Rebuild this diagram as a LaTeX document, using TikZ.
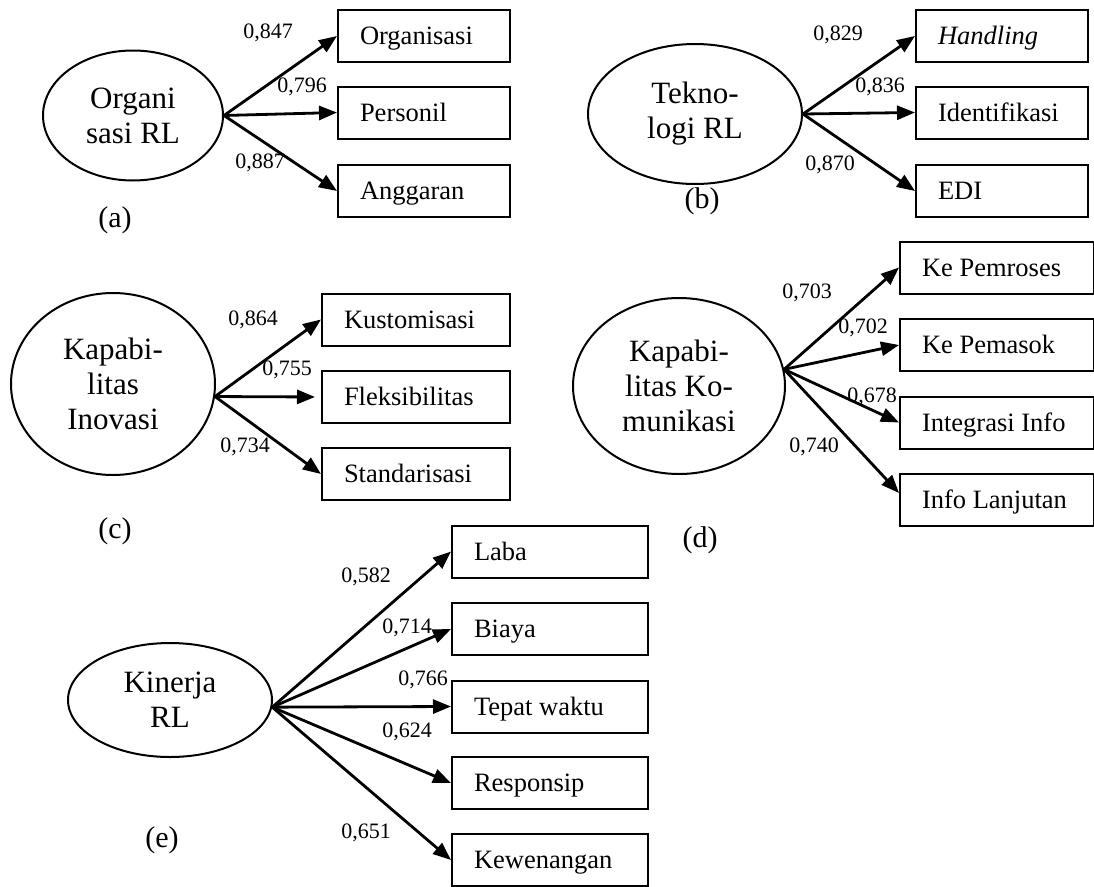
\documentclass[tikz,border=0pt]{standalone}
\usepackage{fontspec}
\setmainfont{Liberation Serif}
\usetikzlibrary{shapes.geometric,arrows.meta}

\begin{document}
\begin{tikzpicture}[x=1pt, y=-1pt,
    lat/.style={draw, ellipse, line width=2pt, inner sep=0pt, align=flush center, font=\fontsize{31}{35}\selectfont},
    ind/.style={draw, rectangle, line width=2pt, anchor=west, minimum height=52pt, inner xsep=22pt, inner ysep=0pt, align=flush left, text width=#1, text height=17.5pt, text depth=0pt, font=\fontsize{26.5}{30}\selectfont},
    coef/.style={inner sep=0pt, font=\fontsize{22}{24}\selectfont},
    pan/.style={inner sep=0pt, font=\fontsize{30}{34}\selectfont},
    fl/.style={-{Triangle[length=18pt, width=14pt]}, line width=2.8pt}]
    \useasboundingbox (0,0) rectangle (1094,886);
    % variables latentes
    \node[lat, minimum width=180pt, minimum height=130pt] (LA) at (133,115.5) {Organi\\sasi RL};
    \node[lat, minimum width=214pt, minimum height=140pt] (LB) at (695,114) {Tekno-\\logi RL};
    \node[lat, minimum width=204pt, minimum height=182pt] (LC) at (113,384) {Kapabi-\\litas\\Inovasi};
    \node[lat, minimum width=212pt, minimum height=176pt] (LD) at (679,386) {Kapabi-\\litas Ko-\\munikasi};
    \node[lat, minimum width=204pt, minimum height=114pt] (LE) at (170,700) {Kinerja\\RL};
    % indicateurs
    \node[ind=128pt] (A1) at (337,36) {Organisasi};
    \node[ind=128pt] (A2) at (337,112.5) {Personil};
    \node[ind=128pt] (A3) at (337,191) {Anggaran};
    \node[ind=128pt] (B1) at (915,36) {\textit{Handling}};
    \node[ind=128pt] (B2) at (915,112.5) {Identifikasi};
    \node[ind=128pt] (B3) at (915,191) {EDI};
    \node[ind=144pt] (C1) at (321,319.5) {Kustomisasi};
    \node[ind=144pt] (C2) at (321,397) {Fleksibilitas};
    \node[ind=144pt] (C3) at (321,474) {Standarisasi};
    \node[ind=150pt] (D1) at (899,267.5) {Ke Pemroses};
    \node[ind=150pt] (D2) at (899,345) {Ke Pemasok};
    \node[ind=150pt] (D3) at (899,422.5) {Integrasi Info};
    \node[ind=150pt] (D4) at (899,500) {Info Lanjutan};
    \node[ind=152pt] (E1) at (451,551.5) {Laba};
    \node[ind=152pt] (E2) at (451,629) {Biaya};
    \node[ind=152pt] (E3) at (451,706.5) {Tepat waktu};
    \node[ind=152pt] (E4) at (451,783) {Responsip};
    \node[ind=152pt] (E5) at (451,860) {Kewenangan};
    % fleches
    \foreach \j in {1,2,3} \draw[fl] (LA.east) -- (A\j.west);
    \foreach \j in {1,2,3} \draw[fl] (LB.east) -- (B\j.west);
    \draw[fl] (LC.-7) -- (C1.west);
    \draw[fl, shorten >=6pt] (LC.-7) -- (C2.west);
    \draw[fl] (LC.-7) -- (C3.west);
    \foreach \j in {1,2,3} \draw[fl] (LD.9) -- (D\j.west);
    \draw[fl] (LD.9) -- ([yshift=7pt]D4.west);
    \foreach \j in {1,...,5} \draw[fl] (LE.-4) -- (E\j.west);
    % coefficients
    \node[coef] (ca1) at (268,33) {0,847};
    \node[coef] (ca2) at (302,87) {0,796};
    \node[coef] (ca3) at (260,163) {0,887};
    \node[coef] (cb1) at (838,35) {0,829};
    \node[coef] (cb2) at (880,87) {0,836};
    \node[coef] (cb3) at (830,165) {0,870};
    \node[coef] (cc1) at (253,320) {0,864};
    \node[coef] (cc2) at (287,370) {0,755};
    \node[coef] (cc3) at (245,447) {0,734};
    \node[coef] (cd1) at (807,293) {0,703};
    \node[coef] (cd2) at (863,328) {0,702};
    \node[coef] (cd3) at (872,397) {0,678};
    \node[coef] (cd4) at (814,447) {0,740};
    \node[coef] (ce1) at (366,577) {0,582};
    \node[coef] (ce2) at (407,628) {0,714};
    \node[coef] (ce3) at (423,680) {0,766};
    \node[coef] (ce4) at (407,732) {0,624};
    \node[coef] (ce5) at (366,833) {0,651};
    % etiquettes
    \node[pan] (pa) at (115,220) {(a)};
    \node[pan] (pb) at (702,201) {(b)};
    \node[pan] (pc) at (115,531) {(c)};
    \node[pan] (pd) at (700,540) {(d)};
    \node[pan] (pe) at (162,840) {(e)};
\end{tikzpicture}
\end{document}
